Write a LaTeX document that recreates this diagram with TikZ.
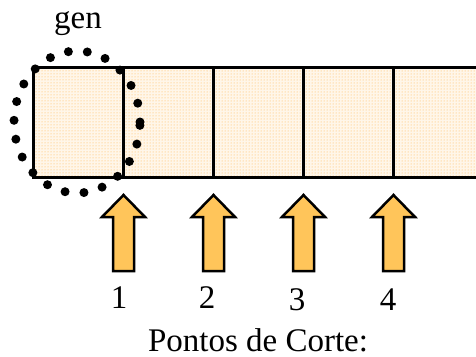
\documentclass[tikz,border=0pt]{standalone}
\usepackage{fontspec}
\setmainfont{Liberation Serif}
\usetikzlibrary{shapes.geometric,patterns}

\definecolor{cutfill}{RGB}{255,197,90}
\definecolor{dotfill}{RGB}{255,180,70}
\tikzset{
  cell/.style={draw=black, line width=3pt, preaction={fill=dotfill!12}, pattern=dots, pattern color=dotfill, minimum width=90pt, minimum height=110pt, inner sep=0pt},
  cutarrow/.style={draw=black, line width=2.5pt, line join=miter, fill=cutfill},
  lbl/.style={font=\fontsize{33}{38}\selectfont, inner sep=0pt}
}

\begin{document}
\begin{tikzpicture}[x=1pt, y=-1pt]
\useasboundingbox (0,0) rectangle (476,356);
% chromosome strip
\node[cell] (C1) at (78,122) {};
\node[cell] (C2) at (168,122) {};
\node[cell] (C3) at (258,122) {};
\node[cell] (C4) at (348,122) {};
\node[cell] (C5) at (438,122) {};
\node[ellipse, draw=black, line width=9pt, line cap=round, dash pattern=on 0pt off 19pt, minimum width=126pt, minimum height=142pt] (GEN) at (77,122) {};
\node[lbl] (GENL) at (78,24) {gen};
% cut points
\coordinate (A1) at (123.5,195);
\coordinate (A2) at (213.5,195);
\coordinate (A3) at (303.5,195);
\coordinate (A4) at (393.5,195);
\draw[cutarrow] (A1) -- ++(21.5,22) -- ++(-11,0) -- ++(0,54) -- ++(-21,0) -- ++(0,-54) -- ++(-11,0) -- cycle;
\draw[cutarrow] (A2) -- ++(21.5,22) -- ++(-11,0) -- ++(0,54) -- ++(-21,0) -- ++(0,-54) -- ++(-11,0) -- cycle;
\draw[cutarrow] (A3) -- ++(21.5,22) -- ++(-11,0) -- ++(0,54) -- ++(-21,0) -- ++(0,-54) -- ++(-11,0) -- cycle;
\draw[cutarrow] (A4) -- ++(21.5,22) -- ++(-11,0) -- ++(0,54) -- ++(-21,0) -- ++(0,-54) -- ++(-11,0) -- cycle;
\node[lbl] (N1) at (119,298) {1};
\node[lbl] (N2) at (207,298) {2};
\node[lbl] (N3) at (297,300) {3};
\node[lbl] (N4) at (388,300) {4};
\node[lbl] (PC) at (258,340) {Pontos de Corte:};
\end{tikzpicture}
\end{document}
